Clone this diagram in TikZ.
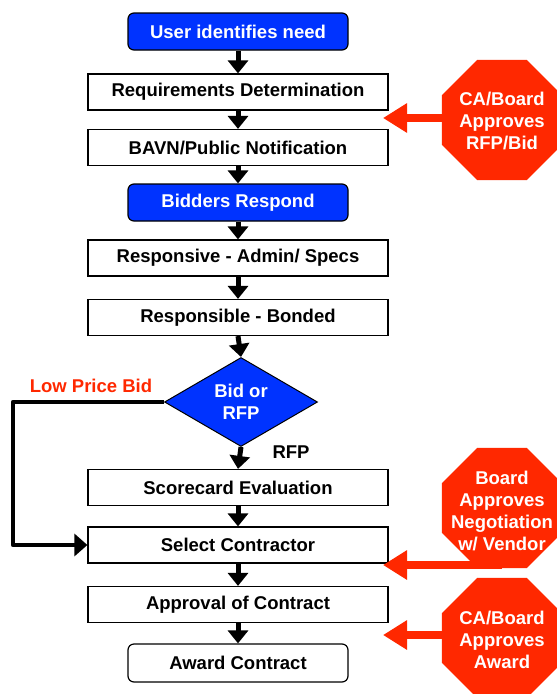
\documentclass[tikz,border=0pt]{standalone}
\usepackage{fontspec}
\setmainfont{Liberation Sans}
\usetikzlibrary{arrows.meta,shapes.geometric}
\definecolor{boxblue}{RGB}{0,51,255}
\definecolor{stopred}{RGB}{255,40,0}
\begin{document}
\begin{tikzpicture}[x=1pt, y=-1pt, font=\fontsize{18.5}{22}\selectfont\bfseries,
  step box/.style={rectangle,draw,line width=1.2pt,fill=white,minimum width=300pt,minimum height=36pt,inner sep=0pt},
  blue box/.style={rectangle,rounded corners=6pt,draw,line width=1.2pt,fill=boxblue,text=white,minimum width=220pt,minimum height=37pt,inner sep=0pt},
  end box/.style={blue box,fill=white,text=black,minimum height=38pt},
  stop sign/.style={regular polygon,regular polygon sides=8,fill=stopred,minimum size=130pt,inner sep=0pt},
  stop text/.style={text=white,align=center,inner sep=0pt},
  down/.style={line width=5pt,-{Triangle[width=20pt,length=13pt]}},
  red arrow/.style={stopred,line width=8pt,-{Triangle[width=28pt,length=24pt]}}]
\useasboundingbox (0,0) rectangle (557,694);
% main column
\node[blue box] (v1) at (238,31.5) {User identifies need};
\node[step box] (v2) at (238,92) {Requirements Determination};
\node[step box] (v3) at (238,147.5) {BAVN/Public Notification};
\node[blue box] (v4) at (238,202.5) {Bidders Respond};
\node[step box] (v5) at (238,258) {Responsive - Admin/ Specs};
\node[step box] (v6) at (238,317.5) {Responsible - Bonded};
\node[diamond,draw,line width=1pt,fill=boxblue,text=white,minimum width=153pt,minimum height=89pt,aspect=1.72,inner sep=0pt,align=center] (v7) at (241,402) {Bid or\\RFP};
\node[step box] (v8) at (238,487.5) {Scorecard Evaluation};
\node[step box] (v9) at (238,545) {Select Contractor};
\node[step box] (v10) at (238,604.5) {Approval of Contract};
\node[end box] (v11) at (238,663) {Award Contract};
% labels
\node[text=stopred] (lp) at (91,386) {Low Price Bid};
\node (rfp) at (291,452) {RFP};
% approvals
\node[stop sign] (o1) at (502,120) {};
\node[stop sign] (o2) at (502,508) {};
\node[stop sign] (o3) at (502,638) {};
\coordinate (t1) at (383,118);
\coordinate (t2) at (383,565);
\coordinate (t3) at (383,635);
\coordinate (c1) at (13,402);
\draw [down] (v1) -- (v2);
\draw [down] (v2) -- (v3);
\draw [down] (v3) -- (v4);
\draw [down] (v4) -- (v5);
\draw [down] (v5) -- (v6);
\draw [down] (v6.south) -- (v7.north);
\draw [down] (v7.south) -- (v8.north);
\draw [down] (v8) -- (v9);
\draw [down] (v9) -- (v10);
\draw [down] (v10) -- (v11);
\draw [line width=4.5pt,line join=round,-{Triangle[width=22pt,length=13pt]}] (v7.west) -- (c1) |- (v9.west);
\draw [red arrow] (o1.west |- t1) -- (t1);
\draw [red arrow] (o2.center |- t2) -- (t2);
\draw [red arrow] (o3.west |- t3) -- (t3);
\node[stop text] (o1t) at (502,121) {CA/Board\\Approves\\RFP/Bid};
\node[stop text] (o2t) at (502,511) {Board\\Approves\\Negotiation\\w/ Vendor};
\node[stop text] (o3t) at (502,640) {CA/Board\\Approves\\Award};
\end{tikzpicture}
\end{document}
